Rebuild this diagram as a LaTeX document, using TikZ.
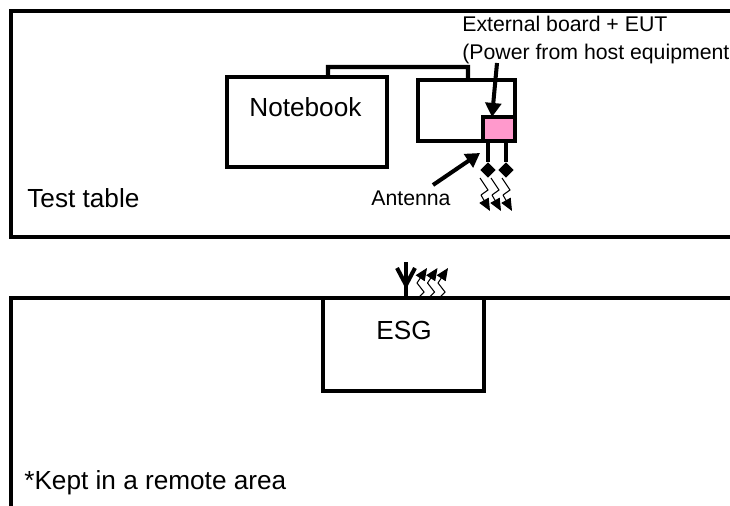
\documentclass[tikz,border=0pt]{standalone}
\usepackage{fontspec}
\setmainfont{Liberation Sans}
\usetikzlibrary{arrows.meta,positioning,shapes.geometric}
\definecolor{eutpink}{RGB}{255,153,204}

\begin{document}
\begin{tikzpicture}[
  x=0.02cm, y=-0.02cm,
  box/.style={draw, line width=2.3pt, inner sep=0pt, outer sep=0pt},
  wire/.style={line width=2.3pt},
  pointer/.style={line width=2.3pt, -{Triangle[length=8pt,width=9pt]}},
  zig/.style={line width=0.6pt},
  wave/.style={line width=0.6pt, -{Triangle[length=7pt,width=6pt]}},
  dot/.style={diamond, fill=black, inner sep=0pt, minimum size=0.31cm},
  big/.style={font=\fontsize{14.9pt}{17pt}\selectfont, inner sep=0pt, anchor=base west},
  small/.style={font=\fontsize{12.1pt}{14pt}\selectfont, inner sep=0pt, anchor=base west}
]
\useasboundingbox (0,0) rectangle (730,506);
% test table and remote area outlines
\draw[wire] (730,11) -- (11,11) -- (11,237) -- (730,237);
\draw[wire] (11,506) -- (11,298) -- (730,298);
% equipment on the table
\node[box, minimum width=3.2cm, minimum height=1.8cm] (notebook) at (307,122) {};
\node[big] (notebooktxt) at (249,117) {Notebook};
\node[box, minimum width=1.94cm, minimum height=1.22cm] (board) at (466.5,110.5) {};
\node[box, fill=eutpink, minimum width=0.64cm, minimum height=0.48cm, anchor=south east] (eut) at (board.south east) {};
\draw[wire] ([xshift=0.42cm]notebook.north) |- (468,67) -- ([xshift=0.03cm]board.north);
% antennas
\node[dot] (ant1) at (488,170) {};
\node[dot] (ant2) at (506,170) {};
\draw[wire] (ant1 |- eut.south) -- (ant1);
\draw[wire] (ant2 |- eut.south) -- (ant2);
\foreach \dx in {0,11,22} {
  \draw[zig] (480+\dx,178) -- (488+\dx,190) -- (481+\dx,195);
  \draw[wave] (481+\dx,195) -- (490+\dx,211);
}
% labels
\node[small] (exttxt) at (462,32) {External board + EUT};
\node[small] (powertxt) at (462,60) {(Power from host equipment};
\node[small] (anttxt) at (371,206) {Antenna};
\node[big] (tabletxt) at (27,208) {Test table};
\draw[pointer] (497,63) -- ([xshift=-0.14cm]eut.north);
\draw[pointer] (433,185) -- (480,153);
% signal generator
\node[box, minimum width=3.22cm, minimum height=1.86cm, anchor=north] (esg) at (403.5,298) {};
\node[big] (esgtxt) at (376,339) {ESG};
\node[big] (remotetxt) at (24,489) {*Kept in a remote area};
\coordinate (rx) at (406,298);
\draw[wire] (rx) -- (406,262);
\draw[wire] (397,268) -- (406,285) -- (415,268);
\foreach \dx in {0,10.5,21} {
  \draw[zig] (419+\dx,297) -- (424+\dx,292) -- (417+\dx,283);
  \draw[wave] (417+\dx,283) -- (427+\dx,268);
}
\end{tikzpicture}
\end{document}
